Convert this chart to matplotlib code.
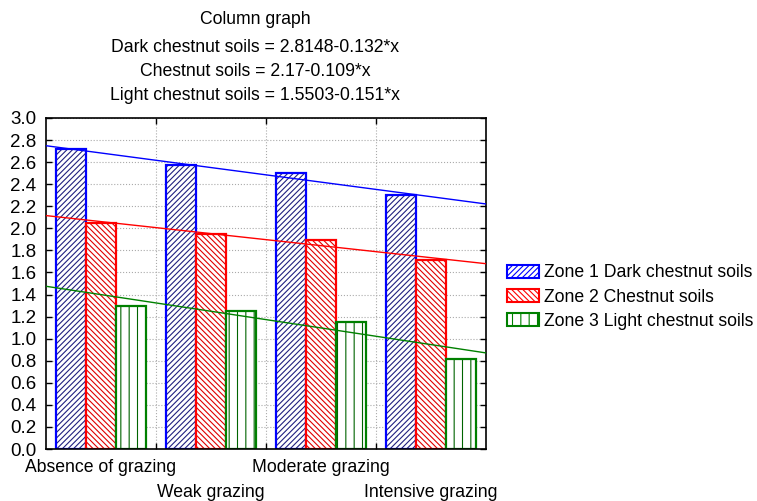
"""
Column graph of three soil zones under grazing levels, with linear trends.
"""
import matplotlib
matplotlib.use('Agg')
import matplotlib.pyplot as plt
import numpy as np

plt.rcParams['font.family'] = ['Liberation Sans', 'DejaVu Sans']
plt.rcParams['hatch.linewidth'] = 0.8

# data
categories = ['Absence of grazing', 'Weak grazing', 'Moderate grazing',
              'Intensive grazing']
zone1 = [2.72, 2.57, 2.50, 2.30]
zone2 = [2.05, 1.95, 1.89, 1.71]
zone3 = [1.30, 1.25, 1.15, 0.82]
series_names = ['Zone 1 Dark chestnut soils', 'Zone 2 Chestnut soils',
                'Zone 3 Light chestnut soils']
# fitted lines: intercept, slope
fits = [(2.8148, -0.132), (2.17, -0.109), (1.5503, -0.151)]
fit_labels = ['Dark chestnut soils = 2.8148-0.132*x',
              'Chestnut soils = 2.17-0.109*x',
              'Light chestnut soils = 1.5503-0.151*x']

colors = ['#0000ff', '#ff0000', '#008000']
hatch_colors = ['#202080', '#e00000', '#006400']
hatches = ['//////', '\\\\\\\\\\\\', '||']
fs = 12.7

fig = plt.figure(figsize=(7.57, 5.01), dpi=100)
ax = fig.add_axes([46 / 757, 52 / 501, 440 / 757, 331 / 501])

x = np.arange(1, len(categories) + 1)
w = 0.27
for i, vals in enumerate([zone1, zone2, zone3]):
    ax.bar(x + (i - 1) * w, vals, w, facecolor='white',
           edgecolor=hatch_colors[i], hatch=hatches[i], linewidth=0,
           label=series_names[i])
    ax.bar(x + (i - 1) * w, vals, w, facecolor='none',
           edgecolor=colors[i], linewidth=1.6)

xl = np.array([0.5, 4.5])
for (b, m), c in zip(fits, colors):
    ax.plot(xl, b + m * xl, color=c, lw=1.0, zorder=3)

ax.set_xlim(0.5, 4.5)
ax.set_ylim(0, 3.0)
ax.set_yticks(np.arange(0, 3.01, 0.2))
ax.set_yticklabels(['{:.1f}'.format(v) for v in np.arange(0, 3.01, 0.2)],
                   fontsize=13.5)
ax.set_xticks([1.5, 2.5, 3.5])
ax.set_xticklabels([])
ax.tick_params(direction='in', top=True, right=True, length=4, width=1,
               pad=7)
ax.grid(True, ls=':', color='#aaaaaa', lw=0.8)
ax.set_axisbelow(True)
for s in ax.spines.values():
    s.set_linewidth(1.2)

for i, lab in enumerate(categories):
    yoff = -0.055 if i % 2 == 0 else -0.13
    ax.text(x[i], yoff, lab, transform=ax.get_xaxis_transform(),
            ha='center', va='center', fontsize=fs)

fig.text(255 / 757, 1 - 20 / 501, 'Column graph', ha='center', va='center',
         fontsize=fs)
for k, t in enumerate(fit_labels):
    fig.text(255 / 757, 1 - (48 + 24 * k) / 501, t, ha='center',
             va='center', fontsize=fs)

handles = []
for i in range(3):
    handles.append(matplotlib.patches.Patch(
        facecolor='white', edgecolor=colors[i], hatch=hatches[i],
        linewidth=1.5))
fig.legend(handles, series_names, loc='center left',
           bbox_to_anchor=(507 / 757, 1 - 297 / 501), frameon=False,
           fontsize=fs, handlelength=1.8, handleheight=0.8,
           handletextpad=0.3, labelspacing=0.4, borderaxespad=0,
           borderpad=0)

fig.savefig('out.png', dpi=100)
